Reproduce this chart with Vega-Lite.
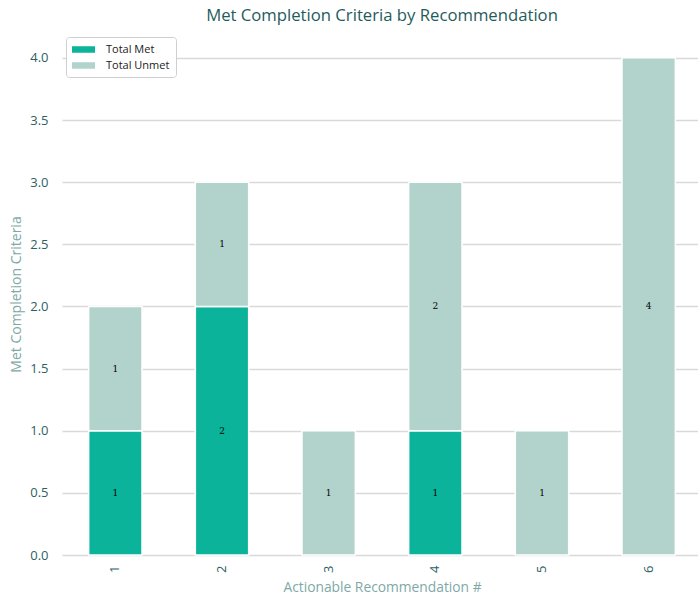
{
  "$schema": "https://vega.github.io/schema/vega-lite/v6.json",
  "width": 640,
  "height": 522,
  "autosize": "none",
  "padding": {"left": 62, "top": 33, "right": 0, "bottom": 42},
  "background": "white",
  "title": {
    "text": "Met Completion Criteria by Recommendation",
    "font": "Open Sans",
    "fontSize": 16.7,
    "fontWeight": "normal",
    "color": "#1f5c5b",
    "anchor": "middle",
    "offset": 8
  },
  "config": {
    "view": {"stroke": null},
    "font": "Open Sans"
  },
  "data": {
    "values": [
      {"rec": "1", "type": "Total Met", "value": 1},
      {"rec": "1", "type": "Total Unmet", "value": 1},
      {"rec": "2", "type": "Total Met", "value": 2},
      {"rec": "2", "type": "Total Unmet", "value": 1},
      {"rec": "3", "type": "Total Unmet", "value": 1},
      {"rec": "4", "type": "Total Met", "value": 1},
      {"rec": "4", "type": "Total Unmet", "value": 2},
      {"rec": "5", "type": "Total Unmet", "value": 1},
      {"rec": "6", "type": "Total Unmet", "value": 4}
    ]
  },
  "encoding": {
    "x": {
      "field": "rec",
      "type": "nominal",
      "sort": ["1", "2", "3", "4", "5", "6"],
      "scale": {"paddingInner": 0.5, "paddingOuter": 0.25},
      "axis": {
        "title": "Actionable Recommendation #",
        "titleFont": "Open Sans",
        "titleFontSize": 13.8,
        "titleFontWeight": "normal",
        "titleColor": "#7ea9a7",
        "titlePadding": 8,
        "labelAngle": -90,
        "labelFontSize": 13,
        "labelColor": "#2e5f63",
        "labelPadding": 10,
        "ticks": false,
        "domain": false
      }
    }
  },
  "layer": [
    {
      "mark": {"type": "bar", "stroke": "white", "strokeWidth": 1.5},
      "encoding": {
        "y": {
          "field": "value",
          "type": "quantitative",
          "stack": "zero",
          "scale": {"domain": [0, 4.2], "nice": false},
          "axis": {
            "title": "Met Completion Criteria",
            "titleFont": "Open Sans",
            "titleFontSize": 14,
            "titleFontWeight": "normal",
            "titleColor": "#7ea9a7",
            "titlePadding": 6,
            "values": [0, 0.5, 1, 1.5, 2, 2.5, 3, 3.5, 4],
            "format": ".1f",
            "labelFontSize": 13,
            "labelColor": "#2e5f63",
            "labelPadding": 14,
            "ticks": false,
            "domain": false,
            "grid": true,
            "gridColor": "#d9d9d9",
            "gridWidth": 1.5
          }
        },
        "color": {
          "field": "type",
          "type": "nominal",
          "scale": {"domain": ["Total Met", "Total Unmet"], "range": ["#0bb39a", "#b2d3cc"]},
          "legend": {
            "title": null,
            "orient": "top-left",
            "offset": 4,
            "strokeColor": "#cfcfcf",
            "fillColor": "white",
            "cornerRadius": 3,
            "padding": 6,
            "labelFont": "Open Sans",
            "labelFontSize": 11,
            "labelColor": "#222222",
            "labelOffset": 16,
            "rowPadding": 4,
            "symbolType": "M-1.77,-0.5H1.77V0.5H-1.77Z",
            "symbolSize": 169,
            "symbolOffset": 5,
            "symbolStrokeWidth": 0
          }
        },
        "order": {"field": "type", "sort": "ascending"}
      }
    },
    {
      "transform": [
        {"stack": "value", "groupby": ["rec"], "sort": [{"field": "type", "order": "ascending"}], "as": ["v0", "v1"]},
        {"fold": ["v0", "v1"], "as": ["edge", "pos"]},
        {"aggregate": [{"op": "mean", "field": "pos", "as": "mid"}, {"op": "max", "field": "value", "as": "label"}], "groupby": ["rec", "type"]}
      ],
      "mark": {"type": "text", "font": "DejaVu Serif", "fontSize": 9, "fill": "black"},
      "encoding": {
        "y": {"field": "mid", "type": "quantitative"},
        "text": {"field": "label", "type": "quantitative"}
      }
    }
  ]
}
